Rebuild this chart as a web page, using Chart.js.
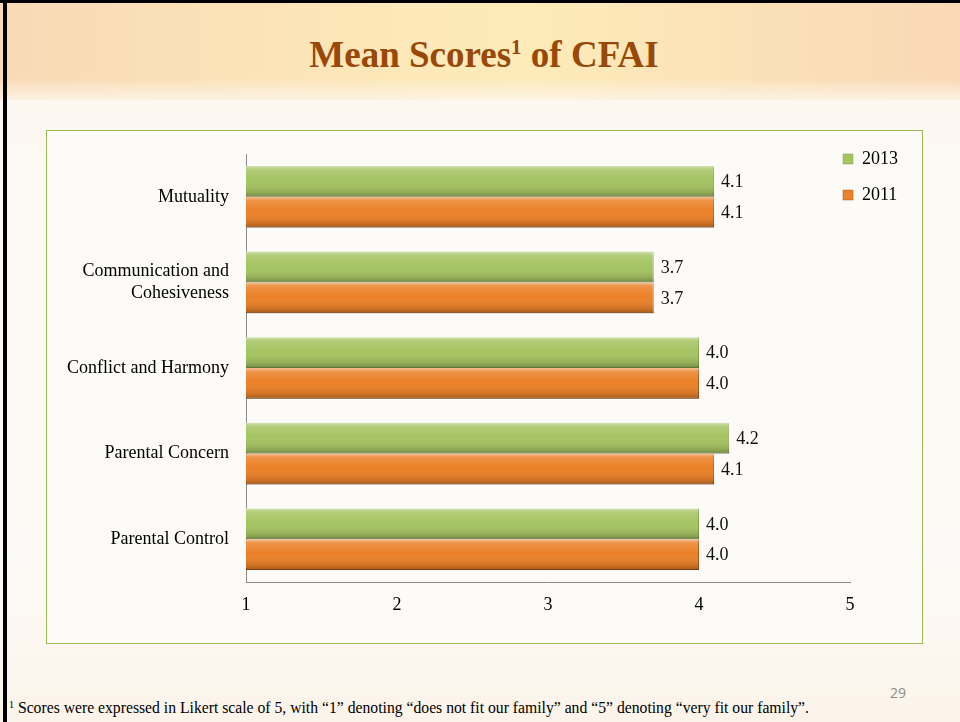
<!DOCTYPE html>
<html>
<head>
<meta charset="utf-8">
<script src="https://cdn.jsdelivr.net/npm/chart.js@4.4.1/dist/chart.umd.min.js"></script>
<style>
  html, body { margin: 0; padding: 0; }
  body {
    width: 960px; height: 722px; position: relative; overflow: hidden;
    background: linear-gradient(to bottom, #fdf6ec 0px, #fcf9f4 200px, #fcfaf6 560px, #fcf4ea 722px);
    font-family: 'Liberation Serif', 'Times New Roman', serif;
  }
  .header {
    position: absolute; left: 0; top: 0; width: 960px; height: 100px;
    background: linear-gradient(to right, #f9d9b6 0%, #fce6b8 35%, #fdebb9 55%, #fbe0b7 80%, #f9d8b6 100%);
  }
  .header::after {
    content: ''; position: absolute; left: 0; right: 0; bottom: 0; height: 22px;
    background: linear-gradient(to bottom, rgba(253,246,236,0), rgba(253,244,232,0.9));
  }
  .frame-top { position: absolute; left: 0; top: 0; width: 960px; height: 3px; background: #000; }
  .frame-left { position: absolute; left: 3px; top: 0; width: 4px; height: 722px; background: #000; }
  .title {
    position: absolute; left: 0; top: 33px; width: 968px; text-align: center;
    font: bold 37px 'Liberation Serif', 'Times New Roman', serif; color: #984807;
  }
  .title sup { font-size: 21px; vertical-align: 13px; line-height: 0; }
  .box {
    position: absolute; left: 46px; top: 130px; width: 875px; height: 512px;
    border: 1.5px solid #9bbb59; background: #fcfbf7;
  }
  #chartWrap { position: absolute; left: 47px; top: 131px; width: 875px; height: 512px; }
  .note {
    position: absolute; left: 9px; top: 699px; white-space: nowrap;
    font: 15.7px 'Liberation Serif', 'Times New Roman', serif; color: #000;
  }
  .note sup { font-size: 10px; vertical-align: 5px; line-height: 0; }
  .page {
    position: absolute; left: 890px; top: 683px;
    font: 14px 'Open Sans', 'Liberation Sans', sans-serif; color: #8c8c8c;
  }
</style>
</head>
<body>
<div class="header"></div>
<div class="frame-top"></div>
<div class="frame-left"></div>
<div class="title">Mean Scores<sup>1</sup> of CFAI</div>
<div class="box"></div>
<div id="chartWrap"><canvas id="cfaiChart" width="875" height="512"></canvas></div>
<div class="note"><sup>1</sup> Scores were expressed in Likert scale of 5, with “1” denoting “does not fit our family” and “5” denoting “very fit our family”.</div>
<div class="page">29</div>

<script>
// Chart data
const categories = [
  'Mutuality',
  ['Communication and', 'Cohesiveness'],
  'Conflict and Harmony',
  'Parental Concern',
  'Parental Control'
];
const scores2013 = [4.1, 3.7, 4.0, 4.2, 4.0];
const scores2011 = [4.1, 3.7, 4.0, 4.1, 4.0];
const xTicks = [1, 2, 3, 4, 5];

const serif = "'Liberation Serif', 'Times New Roman', serif";

// bevel look on top of every bar (uses the bar elements laid out by Chart.js)
const bevelPlugin = {
  id: 'bevel',
  afterDatasetsDraw(chart) {
    const ctx = chart.ctx;
    const area = chart.chartArea;
    ctx.save();
    ctx.beginPath();
    ctx.rect(area.left, area.top, area.right - area.left, area.bottom - area.top);
    ctx.clip();
    chart.data.datasets.forEach((ds, i) => {
      chart.getDatasetMeta(i).data.forEach(bar => {
        const p = bar.getProps(['x', 'y', 'base', 'height'], true);
        const top = p.y - p.height / 2;
        const g = ctx.createLinearGradient(0, top, 0, top + p.height);
        g.addColorStop(0, 'rgba(255,255,255,0.5)');
        g.addColorStop(0.12, 'rgba(255,255,255,0.15)');
        g.addColorStop(0.45, 'rgba(255,255,255,0)');
        g.addColorStop(0.85, 'rgba(0,0,0,0.12)');
        g.addColorStop(1, 'rgba(0,0,0,0.3)');
        ctx.fillStyle = g;
        ctx.fillRect(p.base, top, p.x - p.base, p.height);
      });
    });
    ctx.restore();
  }
};

// value labels to the right of the bars
const valueLabels = {
  id: 'valueLabels',
  afterDatasetsDraw(chart) {
    const ctx = chart.ctx;
    ctx.save();
    ctx.font = '18px ' + serif;
    ctx.fillStyle = '#111';
    ctx.textBaseline = 'middle';
    ctx.textAlign = 'left';
    chart.data.datasets.forEach((ds, i) => {
      chart.getDatasetMeta(i).data.forEach((bar, j) => {
        ctx.fillText(ds.data[j].toFixed(1), bar.x + 7, bar.y + 1);
      });
    });
    ctx.restore();
  }
};

// legend sits over the right end of the plot, near the top
const legendShift = {
  id: 'legendShift',
  afterLayout(chart) {
    const lg = chart.legend;
    if (!lg) return;
    const h = lg.bottom - lg.top;
    lg.left = 778;
    lg.width = 95;
    lg.right = lg.left + lg.width;
    lg.top = 1;
    lg.bottom = lg.top + h;
  }
};

document.addEventListener('DOMContentLoaded', () => {
  const canvas = document.getElementById('cfaiChart');
  if (!canvas) {
    console.error('Canvas element for chart not found.');
    return;
  }
  new Chart(canvas.getContext('2d'), {
    type: 'bar',
    data: {
      labels: categories,
      datasets: [{
        label: '2013',
        data: scores2013,
        backgroundColor: '#a5c462',
        borderColor: '#86a347',
        borderWidth: { top: 0, left: 0, right: 1, bottom: 1 },
        borderSkipped: false,
        categoryPercentage: 0.72,
        barPercentage: 1
      }, {
        label: '2011',
        data: scores2011,
        backgroundColor: '#eb8128',
        borderColor: '#a9561c',
        borderWidth: { top: 0, left: 0, right: 1, bottom: 1 },
        borderSkipped: false,
        categoryPercentage: 0.72,
        barPercentage: 1
      }]
    },
    options: {
      indexAxis: 'y',
      responsive: false,
      animation: false,
      layout: { padding: { left: 0, top: 23, right: 32, bottom: 0 } },
      scales: {
        x: {
          min: 1,
          max: 5,
          afterBuildTicks: axis => { axis.ticks = xTicks.map(v => ({ value: v })); },
          grid: { display: false, drawTicks: false },
          border: { display: true, color: '#8a8a8a', width: 1 },
          ticks: { font: { family: serif, size: 18 }, color: '#000', padding: 12 },
          afterFit: scale => { scale.height = 61; scale.paddingLeft = 0; scale.paddingRight = 0; }
        },
        y: {
          grid: { display: false, drawTicks: false },
          border: { display: true, color: '#8a8a8a', width: 1 },
          ticks: { font: { family: serif, size: 18, lineHeight: 1.25 }, color: '#000', padding: 17 },
          afterFit: scale => { scale.width = 199; scale.paddingTop = 0; scale.paddingBottom = 0; }
        }
      },
      plugins: {
        legend: {
          position: 'right',
          align: 'start',
          maxWidth: 40,
          labels: {
            boxWidth: 10,
            boxHeight: 10,
            padding: 18,
            color: '#000',
            font: { family: serif, size: 18 }
          }
        },
        tooltip: { enabled: false }
      }
    },
    plugins: [bevelPlugin, valueLabels, legendShift]
  });
});
</script>
</body>
</html>
